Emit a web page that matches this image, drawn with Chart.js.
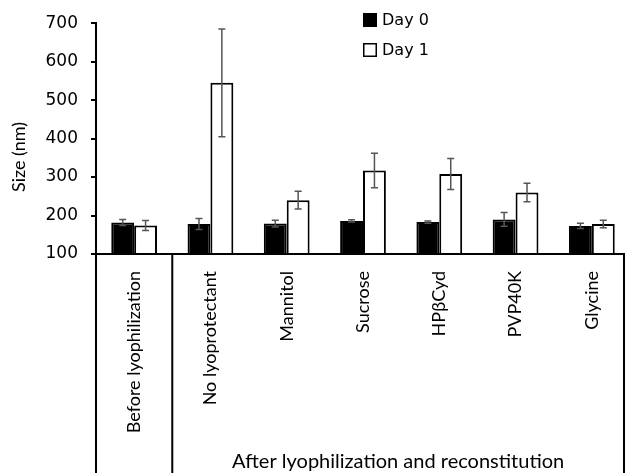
<!DOCTYPE html>
<html>
<head>
<meta charset="utf-8">
<script src="https://cdn.jsdelivr.net/npm/chart.js@4.4.1/dist/chart.umd.min.js"></script>
<style>
  html, body { margin: 0; padding: 0; background: #fff; }
  #wrap { width: 630px; height: 473px; position: relative; }
</style>
</head>
<body>
<div id="wrap"><canvas id="chart-size"></canvas></div>
<script>
// data
const categories = ['Before lyophilization', 'No lyoprotectant', 'Mannitol', 'Sucrose', 'HPβCyd', 'PVP40K', 'Glycine'];
const day0 = [182, 178, 179, 186, 183, 190, 173];
const day0Err = [8, 14, 9, 3, 3, 18, 7];
const day1 = [174, 545, 240, 317, 308, 260, 178];
const day1Err = [13, 140, 23, 45, 40, 24, 10];
const yTicks = [100, 200, 300, 400, 500, 600, 700];
const yTitle = 'Size (nm)';
const groupTitle = 'After lyophilization and reconstitution';

// ── error bars ──────────────────────────────
const errorBars = {
  id: 'errorBars',
  afterDatasetsDraw(chart) {
    const c = chart.ctx;
    const y = chart.scales.y;
    c.save();
    c.strokeStyle = '#555';
    c.lineWidth = 1.5;
    chart.data.datasets.forEach((ds, di) => {
      const meta = chart.getDatasetMeta(di);
      meta.data.forEach((bar, i) => {
        const v = ds.data[i], e = ds.errors[i];
        const yHi = y.getPixelForValue(v + e), yLo = y.getPixelForValue(v - e);
        c.beginPath();
        c.moveTo(bar.x, yHi); c.lineTo(bar.x, yLo);
        c.moveTo(bar.x - 3.5, yHi); c.lineTo(bar.x + 3.5, yHi);
        c.moveTo(bar.x - 3.5, yLo); c.lineTo(bar.x + 3.5, yLo);
        c.stroke();
      });
    });
    c.restore();
  }
};

// ── box under the axis, titles, legend ──────
const boxAndLegend = {
  id: 'boxAndLegend',
  afterDraw(chart) {
    const c = chart.ctx;
    const area = chart.chartArea;
    const x = chart.scales.x;
    const H = chart.height;
    const sep = x.getPixelForValue(0.5);
    const right = area.right - 6;
    c.save();
    c.strokeStyle = '#000';
    c.lineWidth = 2;
    c.beginPath();
    c.moveTo(area.left - 1, area.bottom); c.lineTo(right + 1, area.bottom);
    c.moveTo(area.left, area.bottom); c.lineTo(area.left, H);
    c.moveTo(sep, area.bottom); c.lineTo(sep, H);
    c.moveTo(right, area.bottom); c.lineTo(right, H);
    c.stroke();

    c.fillStyle = '#000';
    c.textAlign = 'center';
    c.textBaseline = 'middle';
    c.font = '20px Lato';
    c.fillText(groupTitle, (sep + right) / 2, 462);

    // y title, sits a little below the axis middle
    c.save();
    c.translate(19, 157);
    c.rotate(-Math.PI / 2);
    c.font = '18px Lato';
    c.fillText(yTitle, 0, 0);
    c.restore();

    // legend, stacked top-right of the plot
    c.font = '16px "DejaVu Sans"';
    c.textAlign = 'left';
    chart.data.datasets.forEach((ds, i) => {
      const cy = 20 + i * 30;
      c.fillStyle = ds.backgroundColor;
      c.fillRect(363, cy - 7, 14, 14);
      c.lineWidth = 1.5;
      c.strokeStyle = '#000';
      c.strokeRect(363.75, cy - 6.25, 12.5, 12.5);
      c.fillStyle = '#000';
      c.fillText(ds.label, 382, cy + 1);
    });
    c.restore();
  }
};

new Chart(document.getElementById('chart-size').getContext('2d'), {
  type: 'bar',
  data: {
    labels: categories,
    datasets: [
      { label: 'Day 0', data: day0, errors: day0Err, backgroundColor: '#000', borderColor: '#000', borderWidth: 2 },
      { label: 'Day 1', data: day1, errors: day1Err, backgroundColor: '#fff', borderColor: '#000', borderWidth: 2 },
    ],
  },
  options: {
    responsive: true,
    maintainAspectRatio: false,
    animation: false,
    layout: { padding: { top: 19, right: 0, bottom: 0, left: 0 } },
    datasets: { bar: { base: 100, categoryPercentage: 0.6, barPercentage: 1 } },
    plugins: { legend: { display: false }, tooltip: { enabled: false } },
    scales: {
      y: {
        min: 100, max: 700,
        afterBuildTicks: s => { s.ticks = yTicks.map(v => ({ value: v })); },
        afterFit: s => { s.width = 96; },
        border: { display: true, color: '#000', width: 2 },
        grid: { drawOnChartArea: false, drawTicks: true, tickLength: 5, color: '#000', lineWidth: 2 },
        ticks: { color: '#000', padding: 13, font: { family: 'DejaVu Sans', size: 17 } },
      },
      x: {
        afterFit: s => { s.height = 219; },
        border: { display: false },
        grid: { display: false },
        ticks: { color: '#000', padding: 9, minRotation: 90, maxRotation: 90, font: { family: 'Lato', size: 18 } },
      },
    },
  },
  plugins: [errorBars, boxAndLegend],
});
</script>
</body>
</html>
